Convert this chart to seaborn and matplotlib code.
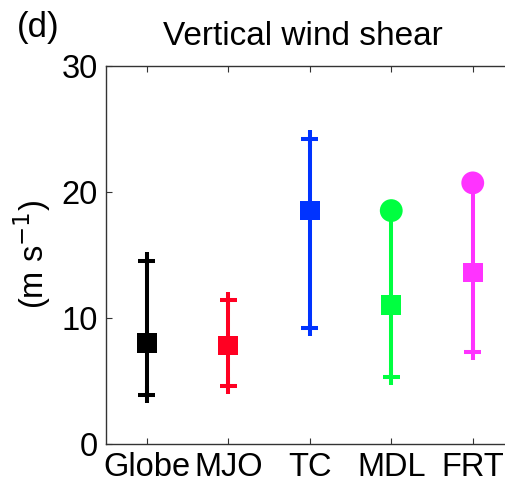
import matplotlib
matplotlib.use("Agg")
import matplotlib.pyplot as plt
import seaborn as sns
import pandas as pd

categories = ["Globe", "MJO", "TC", "MDL", "FRT"]
low_vals = [3.9, 4.6, 9.2, 5.3, 7.3]
mid_vals = [8.0, 7.8, 18.5, 11.0, 13.6]
high_vals = [14.5, 11.4, 24.2, 18.5, 20.7]
high_marker = ["plus", "plus", "plus", "circle", "circle"]
colors = ["#000000", "#ff0022", "#0033ff", "#00ff40", "#ff33ff"]
yticks = [0, 10, 20, 30]

sns.set_theme(style="ticks")
plt.rcParams['font.family'] = ['Liberation Sans', 'DejaVu Sans']
plt.rcParams['text.color'] = 'black'
plt.rcParams['axes.labelcolor'] = 'black'
plt.rcParams['xtick.labelcolor'] = 'black'
plt.rcParams['ytick.labelcolor'] = 'black'

df = pd.DataFrame({"cat": categories, "low": low_vals, "mid": mid_vals,
                   "high": high_vals, "hm": high_marker})
pal = dict(zip(categories, colors))

W, H = 506, 487
fig = plt.figure(figsize=(W / 100, H / 100), dpi=100)
ax_l, ax_b = 106 / W, (H - 443.7) / H
ax_w, ax_h = 407.5 / W, (443.7 - 65.7) / H
ax = fig.add_axes([ax_l, ax_b, ax_w, ax_h])

x = list(range(len(categories)))
for i, c in enumerate(categories):
    ax.vlines(i, df.low[i], df.high[i], color=colors[i], lw=2.9, zorder=2)

sns.scatterplot(data=df, x="cat", y="low", hue="cat", palette=pal, marker="+",
                s=150, linewidth=2.9, legend=False, ax=ax, zorder=3)
sns.scatterplot(data=df[df.hm == "plus"], x="cat", y="high", hue="cat", palette=pal,
                marker="+", s=150, linewidth=2.9, legend=False, ax=ax, zorder=3)
sns.scatterplot(data=df[df.hm == "circle"], x="cat", y="high", hue="cat", palette=pal,
                marker="o", s=270, linewidth=0, legend=False, ax=ax, zorder=3)
sns.scatterplot(data=df, x="cat", y="mid", hue="cat", palette=pal, marker="s",
                s=200, linewidth=0, legend=False, ax=ax, zorder=4)

ax.set_xlim(-0.5, 4.5)
ax.set_ylim(0, 30)
ax.set_yticks(yticks)
ax.set_xticks(x)
ax.set_xticklabels(categories)
ax.set_xlabel("")
ax.set_ylabel(r"(m s$^{-1}$)", fontsize=23.5, labelpad=6, color="black")
ax.tick_params(direction="in", length=4, width=0.8, color="#333333",
               labelsize=23.5, pad=6, top=True, right=True, labelcolor="black")
for s in ax.spines.values():
    s.set_color("#333333")
    s.set_linewidth(1.0)
    s.set_visible(True)

fig.text(302.5 / W, 1 - 45 / H, "Vertical wind shear", fontsize=24, ha="center",
         va="baseline", color="black")
fig.text(17 / W, 1 - 37 / H, "(d)", fontsize=25, ha="left", va="baseline",
         color="black")

fig.savefig("out.png", dpi=100)
